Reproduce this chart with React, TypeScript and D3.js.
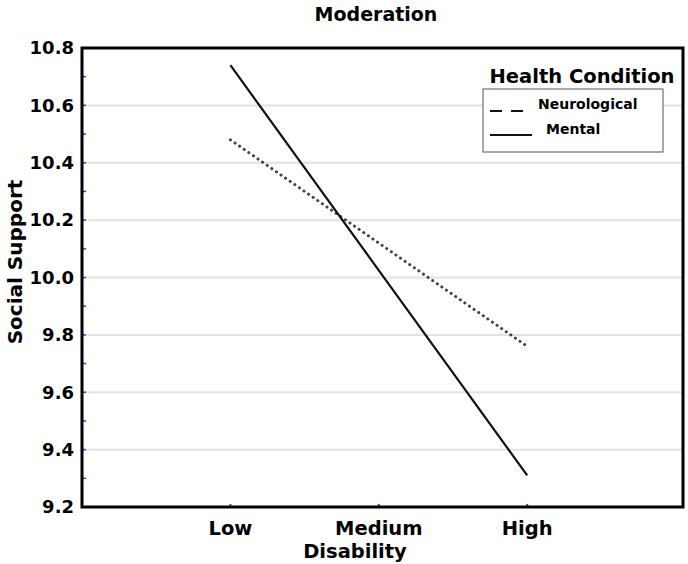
import React, { useEffect, useRef } from "react";
import * as d3 from "d3";

const categories = ["Low", "Medium", "High"];
const neurological = [10.48, 10.12, 9.76];
const mental = [10.74, 10.025, 9.31];
const yTicks = [9.2, 9.4, 9.6, 9.8, 10.0, 10.2, 10.4, 10.6, 10.8];
const legendItems = ["Neurological", "Mental"];

const W = 688;
const H = 564;
const FONT = "'DejaVu Sans', Verdana, sans-serif";

export default function App() {
  const svgRef = useRef<SVGSVGElement>(null);

  useEffect(() => {
    const svg = d3.select(svgRef.current);
    svg.selectAll("*").remove();

    const left = 82;
    const right = 683;
    const top = 48;
    const bottom = 507;

    // categories sit at 1,2,3 on a 0..4 axis
    const x = d3.scaleLinear().domain([0, 4.05]).range([left, right]);
    const y = d3.scaleLinear().domain([9.2, 10.8]).range([bottom, top]);

    svg.append("rect").attr("width", W).attr("height", H).attr("fill", "#fff");

    // gridlines
    svg
      .append("g")
      .selectAll("line")
      .data(yTicks.slice(1, -1))
      .join("line")
      .attr("x1", left)
      .attr("x2", right)
      .attr("y1", (d) => y(d))
      .attr("y2", (d) => y(d))
      .attr("stroke", "#e2e2e2")
      .attr("stroke-width", 2);

    // minor blue ticks on the left axis
    const minor = d3.range(9.3, 10.8, 0.1);
    svg
      .append("g")
      .selectAll("line")
      .data(minor)
      .join("line")
      .attr("x1", left + 1)
      .attr("x2", left + 4)
      .attr("y1", (d) => y(d))
      .attr("y2", (d) => y(d))
      .attr("stroke", "#3a3aff")
      .attr("stroke-width", 1.5);

    // blue ticks on the bottom axis
    svg
      .append("g")
      .selectAll("line")
      .data(categories)
      .join("line")
      .attr("x1", (_, i) => x(i + 1))
      .attr("x2", (_, i) => x(i + 1))
      .attr("y1", bottom - 3)
      .attr("y2", bottom - 1)
      .attr("stroke", "#3a3aff")
      .attr("stroke-width", 2);

    const lineGen = d3
      .line<number>()
      .x((_, i) => x(i + 1))
      .y((d) => y(d));

    svg
      .append("path")
      .datum(neurological)
      .attr("d", lineGen)
      .attr("fill", "none")
      .attr("stroke", "#444")
      .attr("stroke-width", 3)
      .attr("stroke-linecap", "round")
      .attr("stroke-dasharray", "0.1 5.5");

    svg
      .append("path")
      .datum(mental)
      .attr("d", lineGen)
      .attr("fill", "none")
      .attr("stroke", "#111")
      .attr("stroke-width", 2.2);

    // plot border
    svg
      .append("rect")
      .attr("x", left)
      .attr("y", top)
      .attr("width", right - left)
      .attr("height", bottom - top)
      .attr("fill", "none")
      .attr("stroke", "#000")
      .attr("stroke-width", 3);

    // y tick labels
    svg
      .append("g")
      .selectAll("text")
      .data(yTicks)
      .join("text")
      .attr("x", left - 8)
      .attr("y", (d) => y(d))
      .attr("dy", "0.35em")
      .attr("text-anchor", "end")
      .attr("font-family", FONT)
      .attr("font-weight", "bold")
      .attr("font-size", 18)
      .text((d) => d.toFixed(1));

    // x tick labels
    svg
      .append("g")
      .selectAll("text")
      .data(categories)
      .join("text")
      .attr("x", (_, i) => x(i + 1))
      .attr("y", 535)
      .attr("text-anchor", "middle")
      .attr("font-family", FONT)
      .attr("font-weight", "bold")
      .attr("font-size", 19.5)
      .text((d) => d);

    svg
      .append("text")
      .attr("x", 355)
      .attr("y", 558)
      .attr("text-anchor", "middle")
      .attr("font-family", FONT)
      .attr("font-weight", "bold")
      .attr("font-size", 19.5)
      .text("Disability");

    svg
      .append("text")
      .attr("transform", `translate(22, 262) rotate(-90)`)
      .attr("text-anchor", "middle")
      .attr("font-family", FONT)
      .attr("font-weight", "bold")
      .attr("font-size", 20)
      .text("Social Support");

    svg
      .append("text")
      .attr("x", 376)
      .attr("y", 21)
      .attr("text-anchor", "middle")
      .attr("font-family", FONT)
      .attr("font-weight", "bold")
      .attr("font-size", 19)
      .text("Moderation");

    // legend
    const lg = svg.append("g");
    lg.append("text")
      .attr("x", 582)
      .attr("y", 83)
      .attr("text-anchor", "middle")
      .attr("font-family", FONT)
      .attr("font-weight", "bold")
      .attr("font-size", 19.5)
      .text("Health Condition");
    lg.append("rect")
      .attr("x", 483)
      .attr("y", 89)
      .attr("width", 180)
      .attr("height", 63)
      .attr("fill", "#fff")
      .attr("stroke", "#555")
      .attr("stroke-width", 1);

    const items = lg
      .selectAll("g.item")
      .data(legendItems)
      .join("g")
      .attr("class", "item");
    items
      .append("line")
      .attr("x1", 490)
      .attr("x2", (_, i) => (i === 0 ? 525 : 532))
      .attr("y1", (_, i) => 111 + i * 24)
      .attr("y2", (_, i) => 111 + i * 24)
      .attr("stroke", "#111")
      .attr("stroke-width", 2)
      .attr("stroke-dasharray", (_, i) => (i === 0 ? "12 9" : null));
    items
      .append("text")
      .attr("x", (_, i) => (i === 0 ? 538 : 546))
      .attr("y", (_, i) => 109 + i * 25)
      .attr("font-family", FONT)
      .attr("font-weight", "bold")
      .attr("font-size", 14)
      .text((d) => d);
  }, []);

  return (
    <svg
      ref={svgRef}
      width={W}
      height={H}
      style={{ display: "block", position: "absolute", left: 0, top: 0 }}
    />
  );
}
